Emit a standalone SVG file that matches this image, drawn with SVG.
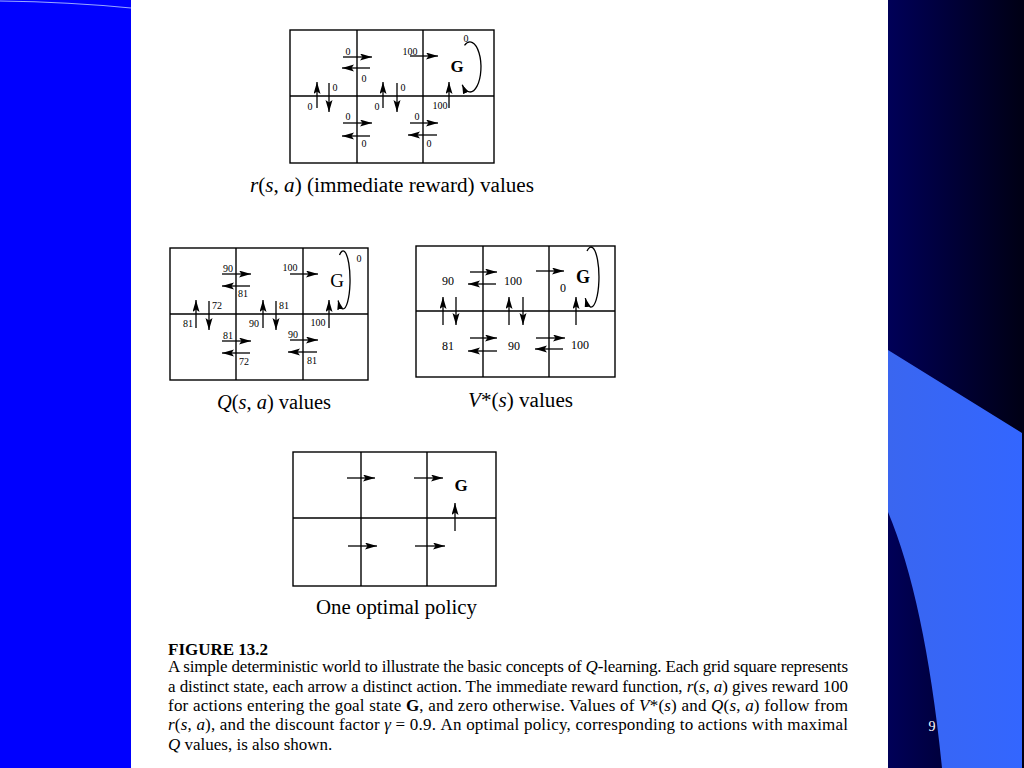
<svg xmlns="http://www.w3.org/2000/svg" width="1024" height="768" viewBox="0 0 1024 768">
<defs>
<linearGradient id="dark" x1="0" y1="0" x2="1" y2="0">
<stop offset="0" stop-color="#000058"/>
<stop offset="1" stop-color="#000014"/>
</linearGradient>
<linearGradient id="lb" x1="0" y1="0" x2="1" y2="0">
<stop offset="0" stop-color="#3a66f0"/>
<stop offset="1" stop-color="#3366ff"/>
</linearGradient>
<marker id="ah" markerUnits="userSpaceOnUse" markerWidth="13" markerHeight="8" refX="12" refY="3.5" orient="auto">
<path d="M0,0 L12,3.5 L0,7 L2.5,3.5 z" fill="#000"/>
</marker>
<marker id="ahs" markerUnits="userSpaceOnUse" markerWidth="10" markerHeight="7" refX="9" refY="3" orient="auto">
<path d="M0,0 L9,3 L0,6 z" fill="#000"/>
</marker>
<style>
.cell{fill:none;stroke:#000;stroke-width:1.4}
.ar{stroke:#000;stroke-width:1.3;fill:none;marker-end:url(#ah)}
.lp{stroke:#000;stroke-width:1.3;fill:none;marker-end:url(#ahs)}
.n{font-family:"Liberation Serif",serif;font-size:10px;fill:#000;text-anchor:middle}
.v{font-family:"Liberation Serif",serif;font-size:12px;fill:#000;text-anchor:middle}
.gb{font-family:"Liberation Serif",serif;font-weight:bold;fill:#000;text-anchor:middle}
.gr{font-family:"Liberation Serif",serif;font-weight:normal;fill:#000;text-anchor:middle}
.cap{font-family:"Liberation Serif",serif;font-size:20.5px;fill:#000}
.body{font-family:"Liberation Serif",serif;font-size:17px;fill:#000}
.it{font-style:italic}
</style>
</defs>

<g id="background">
<rect x="0" y="0" width="1024" height="768" fill="#fff"/>
<rect x="0" y="0" width="131" height="768" fill="#0000ff"/>
<path d="M0,1 Q70,2 131,8" stroke="#9aa8ff" stroke-width="1.2" fill="none"/>
<rect x="888" y="0" width="136" height="768" fill="url(#dark)"/>
<path d="M888,350 L1022,433 L1022,768 L942,768 Q925,600 888,512 Z" fill="url(#lb)"/>
<text x="932" y="731" font-family="Liberation Serif,serif" font-size="14" fill="#fff" text-anchor="middle">9</text>
</g>

<g id="panel-reward">
<g id="r-grid">
<rect class="cell" x="290" y="30" width="204" height="133"/>
<line class="cell" x1="290" y1="96" x2="494" y2="96"/>
<line class="cell" x1="357" y1="30" x2="357" y2="163"/>
<line class="cell" x1="423" y1="30" x2="423" y2="163"/>
</g>
<g id="r-connectors">
<line class="ar" x1="343" y1="57" x2="372" y2="57"/>
<line class="ar" x1="410" y1="56" x2="438" y2="56"/>
<line class="ar" x1="343" y1="123" x2="372" y2="123"/>
<line class="ar" x1="410" y1="123" x2="438" y2="123"/>
<line class="ar" x1="370" y1="68" x2="342" y2="68"/>
<line class="ar" x1="370" y1="136" x2="342" y2="136"/>
<line class="ar" x1="437" y1="135" x2="408" y2="135"/>
<line class="ar" x1="317" y1="108" x2="317" y2="82"/>
<line class="ar" x1="383" y1="108" x2="383" y2="82"/>
<line class="ar" x1="449" y1="108" x2="449" y2="82"/>
<line class="ar" x1="329" y1="83" x2="329" y2="112"/>
<line class="ar" x1="397" y1="83" x2="397" y2="112"/>
<path class="lp" d="M464.5,45.3 A11 25 0 1 1 462.2,84.7"/>
</g>
<g id="r-labels">
<text class="n" x="348" y="55">0</text>
<text class="n" x="364" y="82">0</text>
<text class="n" x="410" y="55">100</text>
<text class="n" x="466" y="42">0</text>
<text class="n" x="335" y="91">0</text>
<text class="n" x="310" y="110">0</text>
<text class="n" x="403" y="91">0</text>
<text class="n" x="377" y="110">0</text>
<text class="n" x="440" y="109">100</text>
<text class="n" x="348" y="120">0</text>
<text class="n" x="364" y="147">0</text>
<text class="n" x="417" y="120">0</text>
<text class="n" x="429" y="147">0</text>
<text class="gb" x="457" y="72" font-size="17">G</text>
</g>
<text class="cap" x="250" y="192" textLength="284" lengthAdjust="spacingAndGlyphs"><tspan class="it">r</tspan>(<tspan class="it">s</tspan>, <tspan class="it">a</tspan>) (immediate reward) values</text>
</g>

<g id="panel-q">
<g id="q-grid">
<rect class="cell" x="170" y="248" width="198" height="132"/>
<line class="cell" x1="170" y1="314" x2="368" y2="314"/>
<line class="cell" x1="236" y1="248" x2="236" y2="380"/>
<line class="cell" x1="303" y1="248" x2="303" y2="380"/>
</g>
<g id="q-connectors">
<line class="ar" x1="222" y1="274" x2="251" y2="274"/>
<line class="ar" x1="290" y1="274" x2="318" y2="274"/>
<line class="ar" x1="222" y1="341" x2="251" y2="341"/>
<line class="ar" x1="290" y1="340" x2="318" y2="340"/>
<line class="ar" x1="250" y1="286" x2="222" y2="286"/>
<line class="ar" x1="250" y1="353" x2="222" y2="353"/>
<line class="ar" x1="317" y1="352" x2="288" y2="352"/>
<line class="ar" x1="196" y1="328" x2="196" y2="300"/>
<line class="ar" x1="263" y1="328" x2="263" y2="300"/>
<line class="ar" x1="329" y1="328" x2="329" y2="300"/>
<line class="ar" x1="209" y1="301" x2="209" y2="330"/>
<line class="ar" x1="276" y1="301" x2="276" y2="330"/>
<path class="lp" d="M339.5,254.9 A7 29 0 1 1 338.1,300.5"/>
</g>
<g id="q-labels">
<text class="n" x="228" y="272">90</text>
<text class="n" x="243" y="297">81</text>
<text class="n" x="290" y="271">100</text>
<text class="n" x="359" y="262">0</text>
<text class="n" x="217" y="309">72</text>
<text class="n" x="188" y="327">81</text>
<text class="n" x="284" y="309">81</text>
<text class="n" x="254" y="327">90</text>
<text class="n" x="318" y="326">100</text>
<text class="n" x="228" y="339">81</text>
<text class="n" x="244" y="365">72</text>
<text class="n" x="293" y="338">90</text>
<text class="n" x="312" y="364">81</text>
<text class="gr" x="337" y="287" font-size="19">G</text>
</g>
<text class="cap" x="217" y="409" textLength="114" lengthAdjust="spacingAndGlyphs"><tspan class="it">Q</tspan>(<tspan class="it">s</tspan>, <tspan class="it">a</tspan>)  values</text>
</g>

<g id="panel-v">
<g id="v-grid">
<rect class="cell" x="416" y="246" width="199" height="131"/>
<line class="cell" x1="416" y1="311" x2="615" y2="311"/>
<line class="cell" x1="483" y1="246" x2="483" y2="377"/>
<line class="cell" x1="549" y1="246" x2="549" y2="377"/>
</g>
<g id="v-connectors">
<line class="ar" x1="470" y1="272" x2="497" y2="272"/>
<line class="ar" x1="496" y1="284" x2="468" y2="284"/>
<line class="ar" x1="536" y1="271" x2="564" y2="271"/>
<line class="ar" x1="470" y1="338" x2="497" y2="338"/>
<line class="ar" x1="497" y1="351" x2="468" y2="351"/>
<line class="ar" x1="536" y1="338" x2="565" y2="338"/>
<line class="ar" x1="563" y1="349" x2="535" y2="349"/>
<line class="ar" x1="443" y1="325" x2="443" y2="297"/>
<line class="ar" x1="509" y1="325" x2="509" y2="297"/>
<line class="ar" x1="576" y1="325" x2="576" y2="297"/>
<line class="ar" x1="456" y1="297" x2="456" y2="325"/>
<line class="ar" x1="523" y1="297" x2="523" y2="325"/>
<path class="lp" d="M587,251 A8 30 0 1 1 585.3,298.2"/>
</g>
<g id="v-labels">
<text class="v" x="448" y="285">90</text>
<text class="v" x="513" y="285">100</text>
<text class="v" x="563" y="292">0</text>
<text class="v" x="448" y="350">81</text>
<text class="v" x="514" y="350">90</text>
<text class="v" x="580" y="349">100</text>
<text class="gb" x="583" y="283" font-size="18">G</text>
</g>
<text class="cap" x="468" y="407" textLength="105" lengthAdjust="spacingAndGlyphs"><tspan class="it">V</tspan>*(<tspan class="it">s</tspan>)  values</text>
</g>

<g id="panel-policy">
<g id="p-grid">
<rect class="cell" x="293" y="452" width="203" height="134"/>
<line class="cell" x1="293" y1="518" x2="496" y2="518"/>
<line class="cell" x1="361" y1="452" x2="361" y2="586"/>
<line class="cell" x1="427" y1="452" x2="427" y2="586"/>
</g>
<g id="p-connectors">
<line class="ar" x1="347" y1="478" x2="375" y2="478"/>
<line class="ar" x1="414" y1="478" x2="443" y2="478"/>
<line class="ar" x1="348" y1="546" x2="377" y2="546"/>
<line class="ar" x1="415" y1="546" x2="445" y2="546"/>
<line class="ar" x1="455" y1="531" x2="455" y2="503"/>
</g>
<g id="p-labels">
<text class="gb" x="461" y="491" font-size="17">G</text>
</g>
<text class="cap" x="316" y="614" textLength="161" lengthAdjust="spacingAndGlyphs">One optimal policy</text>
</g>

<g id="figure-caption">
<text class="body" x="168" y="655" font-weight="bold" font-size="16.5">FIGURE 13.2</text>
<text class="body" x="168" y="672" textLength="680" lengthAdjust="spacing">A simple deterministic world to illustrate the basic concepts of <tspan class="it">Q</tspan>-learning. Each grid square represents</text>
<text class="body" x="168" y="692" textLength="680" lengthAdjust="spacing">a distinct state, each arrow a distinct action. The immediate reward function, <tspan class="it">r</tspan>(<tspan class="it">s</tspan>, <tspan class="it">a</tspan>) gives reward 100</text>
<text class="body" x="168" y="711" textLength="680" lengthAdjust="spacing">for actions entering the goal state <tspan font-weight="bold">G</tspan>, and zero otherwise. Values of <tspan class="it">V</tspan>*(<tspan class="it">s</tspan>) and <tspan class="it">Q</tspan>(<tspan class="it">s</tspan>, <tspan class="it">a</tspan>) follow from</text>
<text class="body" x="168" y="730" textLength="680" lengthAdjust="spacing"><tspan class="it">r</tspan>(<tspan class="it">s</tspan>, <tspan class="it">a</tspan>), and the discount factor <tspan class="it">γ</tspan> = 0.9. An optimal policy, corresponding to actions with maximal</text>
<text class="body" x="168" y="750"><tspan class="it">Q</tspan> values, is also shown.</text>
</g>
</svg>
